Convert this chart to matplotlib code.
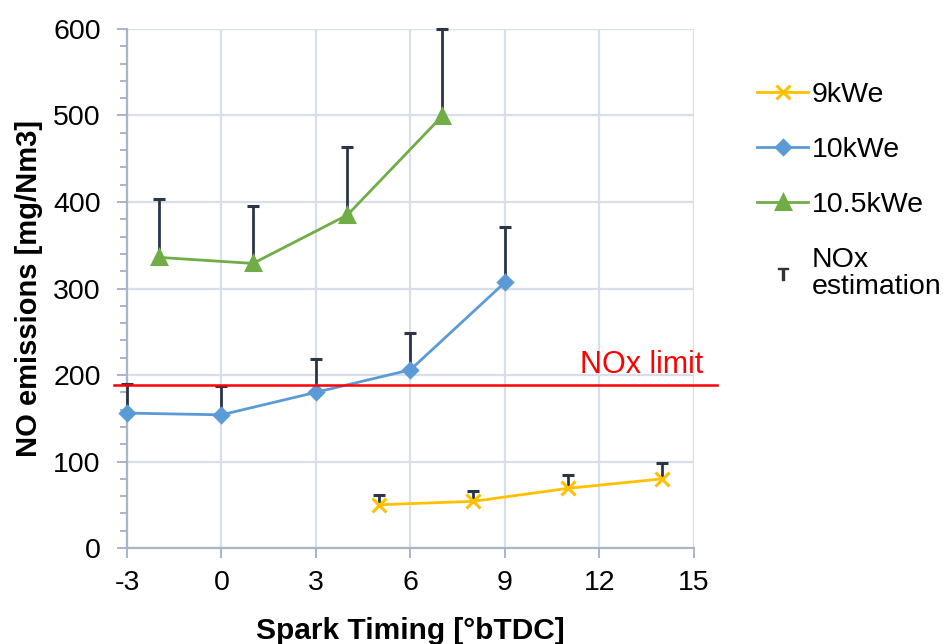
import matplotlib
matplotlib.use("Agg")
import matplotlib.pyplot as plt
from matplotlib.lines import Line2D
from matplotlib.ticker import MultipleLocator

plt.rcParams["font.family"] = ["Liberation Sans", "DejaVu Sans"]
plt.rcParams["axes.unicode_minus"] = False

# spark timing [°bTDC], NO emissions [mg/Nm3], upper error (NOx estimation)
x_9 = [5, 8, 11, 14]
y_9 = [50, 54, 69, 80]
err_9 = [11, 12, 15, 18]

x_10 = [-3, 0, 3, 6, 9]
y_10 = [156, 154, 180, 206, 307]
err_10 = [34, 33, 38, 43, 64]

x_105 = [-2, 1, 4, 7]
y_105 = [336, 329, 385, 499]
err_105 = [68, 66, 78, 101]

nox_limit = 188

fig = plt.figure(figsize=(9.43, 6.44), dpi=100)
ax = fig.add_axes([0.1347, 0.149, 0.601, 0.806])

grid_c = "#d9dfe8"
spine_c = "#a9b6c8"
err_c = "#2a3547"

series = [
    (x_9, y_9, err_9, "#ffc000", "x", 10, "9kWe"),
    (x_10, y_10, err_10, "#5b9bd5", "D", 7, "10kWe"),
    (x_105, y_105, err_105, "#70ad47", "^", 10, "10.5kWe"),
]
for xs, ys, errs, col, mk, ms, lab in series:
    tops = [y + e for y, e in zip(ys, errs)]
    ax.vlines(xs, ys, tops, color=err_c, lw=2, zorder=3, clip_on=False)
    ax.plot(xs, tops, ls="none", marker="_", ms=9, mew=2.2, color=err_c,
            zorder=3, clip_on=False)
    ax.plot(xs, ys, color=col, lw=2, marker=mk, ms=ms, mew=2.2,
            label=lab, zorder=4, clip_on=False)

ax.plot([-3.4, 15.75], [nox_limit, nox_limit], color="#ff0000", lw=1.8,
        zorder=5, clip_on=False)
ax.text(15.3, nox_limit + 6, "NOx limit", color="#ff0000", fontsize=22,
        ha="right", va="bottom")

ax.set_xlim(-3, 15)
ax.set_ylim(0, 600)
ax.xaxis.set_major_locator(MultipleLocator(3))
ax.yaxis.set_major_locator(MultipleLocator(100))
ax.yaxis.set_minor_locator(MultipleLocator(20))
ax.grid(True, which="major", color=grid_c, lw=1.6, zorder=0)
ax.set_axisbelow(True)
for side in ("top", "right"):
    ax.spines[side].set_visible(False)
for side in ("left", "bottom"):
    ax.spines[side].set_color(spine_c)
    ax.spines[side].set_linewidth(1.6)
ax.tick_params(axis="both", which="both", color=spine_c, width=1.4,
               labelsize=20.5, labelcolor="#000000")
ax.tick_params(axis="both", which="major", length=7)
ax.tick_params(axis="y", which="major", pad=12)
ax.tick_params(axis="x", which="major", pad=9)
ax.tick_params(axis="y", which="minor", length=5)

ax.set_xlabel("Spark Timing [°bTDC]", fontsize=21.5, fontweight="bold",
              labelpad=15)
ax.set_ylabel("NO emissions [mg/Nm3]", fontsize=21, fontweight="bold",
              labelpad=7)

handles, labels = ax.get_legend_handles_labels()
handles.append(Line2D([], [], ls="none", marker=r"$\mathrm{T}$", ms=9,
                      color="#333333"))
labels.append("NOx\nestimation")
leg = fig.legend(handles, labels, loc="upper left",
                 bbox_to_anchor=(757 / 943, 1 - 82 / 644),
                 frameon=False, fontsize=20.5, handlelength=1.8,
                 labelspacing=1.02, handletextpad=0.12, borderpad=0,
                 borderaxespad=0)
for t in leg.get_texts():
    t.set_linespacing(1.05)

fig.savefig("out.png", dpi=100)
